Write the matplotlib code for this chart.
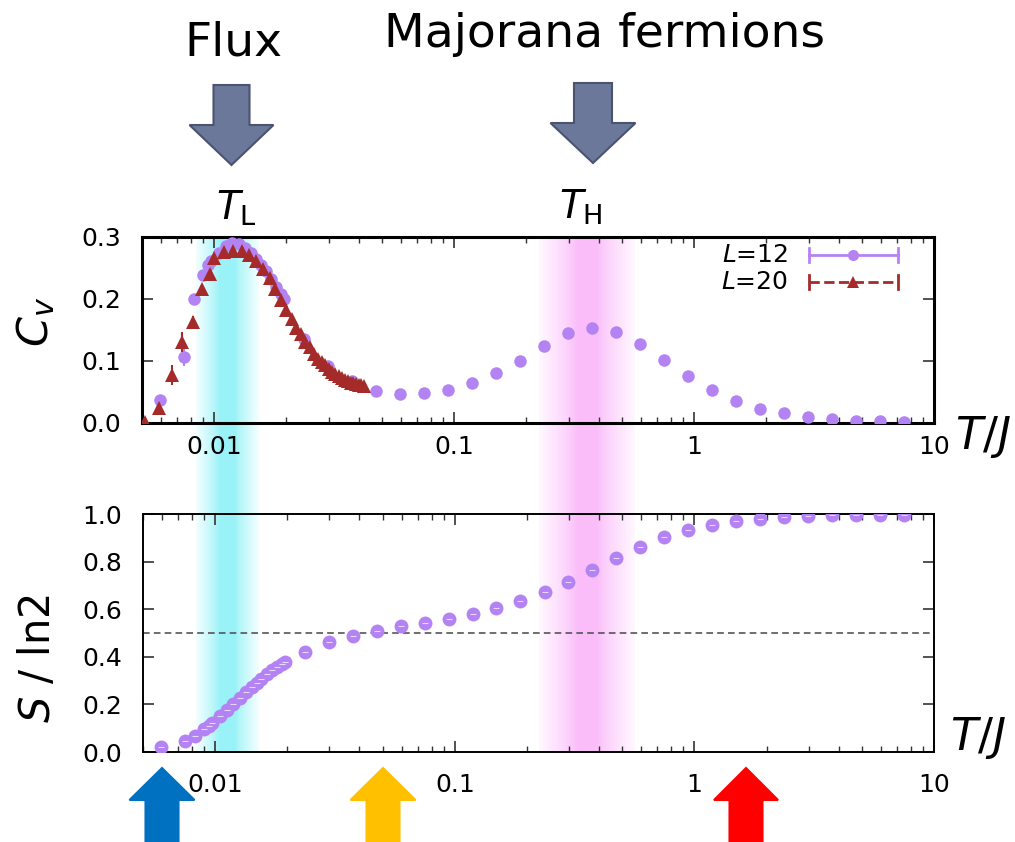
import matplotlib
matplotlib.use("Agg")
import matplotlib.pyplot as plt
from matplotlib.patches import Polygon
from matplotlib.ticker import FixedLocator, LogLocator, NullFormatter
import numpy as np

plt.rcParams['font.family'] = ['DejaVu Sans']
plt.rcParams['mathtext.fontset'] = 'dejavusans'

# temperatures of the L=12 run (shared by Cv and entropy)
T12 = [0.00596, 0.0075, 0.00825, 0.0090, 0.0094, 0.00974, 0.0105, 0.0112, 0.0119,
       0.0127, 0.0135, 0.0142, 0.0149, 0.0156, 0.0164, 0.0172, 0.0181, 0.0190, 0.0196,
       0.0237, 0.0299, 0.0376, 0.0473, 0.0595, 0.0749, 0.0943, 0.119, 0.149, 0.188,
       0.237, 0.298, 0.375, 0.472, 0.595, 0.749, 0.943, 1.19, 1.49, 1.88, 2.37, 2.98,
       3.75, 4.72, 5.94, 7.48]
cv12 = [0.037, 0.107, 0.200, 0.239, 0.255, 0.262, 0.275, 0.285, 0.290,
        0.288, 0.282, 0.275, 0.265, 0.255, 0.245, 0.232, 0.220, 0.208, 0.200,
        0.135, 0.092, 0.067, 0.052, 0.047, 0.048, 0.053, 0.064, 0.080, 0.100,
        0.124, 0.145, 0.153, 0.147, 0.127, 0.102, 0.076, 0.053, 0.036, 0.023, 0.016, 0.010,
        0.006, 0.004, 0.003, 0.002]
cv12_err = [0.008, 0.015, 0.008, 0.007, 0.006, 0.005, 0.004, 0.004, 0.003,
            0.003, 0.003, 0.003, 0.003, 0.003, 0.003, 0.003, 0.003, 0.003, 0.003,
            0.002, 0.002, 0.002, 0.002, 0.002, 0.002, 0.002, 0.002, 0.002, 0.002,
            0.002, 0.002, 0.002, 0.002, 0.002, 0.002, 0.002, 0.002, 0.002, 0.002, 0.002, 0.002,
            0.002, 0.002, 0.002, 0.002]
s12 = [0.022, 0.045, 0.066, 0.095, 0.110, 0.123, 0.150, 0.178, 0.200,
       0.226, 0.251, 0.272, 0.292, 0.308, 0.327, 0.343, 0.358, 0.371, 0.377,
       0.420, 0.461, 0.489, 0.508, 0.528, 0.542, 0.560, 0.580, 0.604, 0.633,
       0.671, 0.716, 0.765, 0.816, 0.863, 0.902, 0.932, 0.955, 0.969, 0.980, 0.987, 0.992,
       0.995, 0.997, 0.997, 0.997]

# L=20 run, low temperatures only
T20 = [0.00515, 0.0059, 0.00664, 0.00736, 0.00816, 0.00888, 0.0096,
       0.010, 0.011, 0.012, 0.013, 0.014, 0.015, 0.016, 0.017, 0.018, 0.019, 0.020,
       0.021, 0.022, 0.023, 0.024, 0.025, 0.026, 0.027, 0.028, 0.029, 0.030,
       0.031, 0.032, 0.033, 0.034, 0.035, 0.036, 0.037, 0.038, 0.039, 0.040,
       0.041, 0.042]
cv20 = [0.002, 0.024, 0.077, 0.131, 0.163, 0.216, 0.240,
        0.266, 0.276, 0.277, 0.277, 0.271, 0.261, 0.248, 0.234, 0.216, 0.198, 0.183,
        0.167, 0.154, 0.143, 0.131, 0.122, 0.111, 0.104, 0.098, 0.093, 0.087,
        0.083, 0.079, 0.076, 0.072, 0.069, 0.067, 0.065, 0.064, 0.063, 0.062,
        0.061, 0.060]
cv20_err = [0.004, 0.008, 0.016, 0.016, 0.010, 0.008, 0.006,
            0.005, 0.004, 0.004, 0.004, 0.003, 0.003, 0.003, 0.003, 0.003, 0.003, 0.003,
            0.002, 0.002, 0.002, 0.002, 0.002, 0.002, 0.002, 0.002, 0.002, 0.002,
            0.002, 0.002, 0.002, 0.002, 0.002, 0.002, 0.002, 0.002, 0.002, 0.002,
            0.002, 0.002]

T_L = 0.0113
T_H = 0.358

purple = '#b483f3'
brown = '#a52a2a'

W, H = 1015, 842
fig = plt.figure(figsize=(W / 100, H / 100), dpi=100)


def box(x0, x1, ytop, ybot):
    return [x0 / W, 1 - ybot / H, (x1 - x0) / W, (ybot - ytop) / H]


def fx(x):
    return x / W


def fy(y):
    return 1 - y / H


# shaded bands behind both panels
bg = fig.add_axes(box(142.5, 934, 237, 752), zorder=0)
bg.set_xscale('log')
bg.set_xlim(0.005, 10)
bg.set_ylim(0, 1)
bg.axis('off')


def band(ax, center, half, core, rgb):
    lc = np.log10(center)
    edges = np.linspace(lc - half, lc + half, 121)
    for a, b in zip(edges[:-1], edges[1:]):
        u = abs((a + b) / 2 - lc) / half
        if u < core:
            k = 1.0
        else:
            k = 1.0 - 0.88 * ((u - core) / (1 - core)) ** 0.8
        col = [1 - k * (1 - c) for c in rgb]
        ax.axvspan(10 ** a, 10 ** b, color=col, lw=0)


band(bg, T_L, 0.13, 0.25, (0.60, 0.95, 0.97))
band(bg, T_H, 0.20, 0.2, (0.98, 0.74, 0.98))

ax1 = fig.add_axes(box(142, 934, 237, 423), zorder=2)
ax2 = fig.add_axes(box(143, 934, 514, 752), zorder=2)

for ax in (ax1, ax2):
    ax.set_facecolor('none')
    ax.set_xscale('log')
    ax.set_xlim(0.005, 10)
    ax.xaxis.set_major_locator(FixedLocator([0.01, 0.1, 1, 10]))
    ax.xaxis.set_minor_locator(LogLocator(base=10, subs=np.arange(2, 10)))
    ax.xaxis.set_minor_formatter(NullFormatter())
    ax.set_xticklabels(['0.01', '0.1', '1', '10'])
    ax.tick_params(which='both', direction='in', top=True, right=True,
                   labelsize=18, color='#333333')
    ax.tick_params(which='major', length=8, width=1.2)
    ax.tick_params(which='minor', length=4.5, width=1.0)

# specific heat
ax1.errorbar(T12, cv12, yerr=cv12_err, fmt='o', color=purple, ms=9, mew=0,
             elinewidth=1.5, capsize=3.5, capthick=1.5, zorder=3)
ax1.plot(T12, cv12, ls='none', marker='_', ms=4.5, mew=0.8, color='#e6d8fc', zorder=3)
ax1.errorbar(T20, cv20, yerr=cv20_err, fmt='^', color=brown, ms=10, mew=0,
             elinewidth=1.5, capsize=3.5, capthick=1.5, zorder=4)
ax1.set_ylim(0, 0.3)
ax1.set_yticks([0, 0.1, 0.2, 0.3])
ax1.set_yticklabels(['0.0', '0.1', '0.2', '0.3'])
ax1.tick_params(axis='x', which='major', pad=9)
ax1.tick_params(axis='y', pad=15)
for s in ax1.spines.values():
    s.set_linewidth(2.2)

# legend drawn by hand, gnuplot style
for yy, lab, col, mk, ls in [(0.903, 'L=12', purple, 'o', '-'),
                             (0.758, 'L=20', brown, '^', '--')]:
    ax1.text(0.816, yy, r'$L$=' + lab[2:], transform=ax1.transAxes, ha='right',
             va='center', fontsize=18)
    ax1.plot([0.842, 0.954], [yy, yy], transform=ax1.transAxes, color=col,
             ls=ls, lw=2, clip_on=False)
    ax1.plot([0.898], [yy], transform=ax1.transAxes, color=col, marker=mk,
             ms=8, mew=0, clip_on=False)
    for xe in (0.842, 0.954):
        ax1.plot([xe, xe], [yy - 0.04, yy + 0.04], transform=ax1.transAxes,
                 color=col, lw=2, clip_on=False)

# entropy
ax2.axhline(0.5, color='#555555', ls=(0, (4, 2.5)), lw=1.2, zorder=1)
ax2.plot(T12, s12, ls='none', marker='o', color=purple, ms=10, mew=0, zorder=3)
ax2.plot(T12, s12, ls='none', marker='_', ms=5, mew=0.8, color='#e6d8fc', zorder=3)
ax2.set_ylim(0, 1.0)
ax2.set_yticks([0, 0.2, 0.4, 0.6, 0.8, 1.0])
ax2.set_yticklabels(['0.0', '0.2', '0.4', '0.6', '0.8', '1.0'])
ax2.tick_params(axis='x', which='major', pad=15)
ax2.tick_params(axis='y', pad=15)
for s in ax2.spines.values():
    s.set_linewidth(1.4)

# axis labels
fig.text(fx(36), fy(322), r'$C_v$', rotation=90, ha='center', va='center', fontsize=31)
fig.text(fx(38), fy(658), r'$S$ / ln2', rotation=90, ha='center', va='center', fontsize=30)
fig.text(fx(983), fy(437), r'$T/J$', ha='center', va='center', fontsize=32)
fig.text(fx(978), fy(738), r'$T/J$', ha='center', va='center', fontsize=32)

# scale labels above the panels
fig.text(fx(236), fy(208), r'$T_{\rm L}$', ha='center', va='center', fontsize=28)
fig.text(fx(581), fy(207), r'$T_{\rm H}$', ha='center', va='center', fontsize=28)
fig.text(fx(233), fy(55), 'Flux', ha='center', va='baseline', fontsize=34)
fig.text(fx(604), fy(47), 'Majorana fermions', ha='center', va='baseline', fontsize=34)


def block_arrow(xc, shaft_w, head_w, y_tail, y_base, y_tip, face, edge):
    pts = [(xc - shaft_w / 2, y_tail), (xc + shaft_w / 2, y_tail),
           (xc + shaft_w / 2, y_base), (xc + head_w / 2, y_base),
           (xc, y_tip), (xc - head_w / 2, y_base), (xc - shaft_w / 2, y_base)]
    pts = [(fx(x), fy(y)) for x, y in pts]
    fig.patches.append(Polygon(pts, closed=True, transform=fig.transFigure,
                               facecolor=face, edgecolor=edge, lw=1.5))


# downward arrows for the two temperature scales
block_arrow(231.5, 36, 84, 85, 125, 165, '#6c7899', '#4a5472')
block_arrow(593, 38, 85, 83, 123, 163, '#6c7899', '#4a5472')

# coloured markers under the entropy axis
block_arrow(162, 33, 65, 842, 800, 768, '#0070c0', '#0070c0')
block_arrow(383, 33, 65, 842, 800, 768, '#ffc000', '#ffc000')
block_arrow(746, 33, 64, 842, 800, 768, '#ff0000', '#ff0000')

fig.savefig('out.png', dpi=100)
